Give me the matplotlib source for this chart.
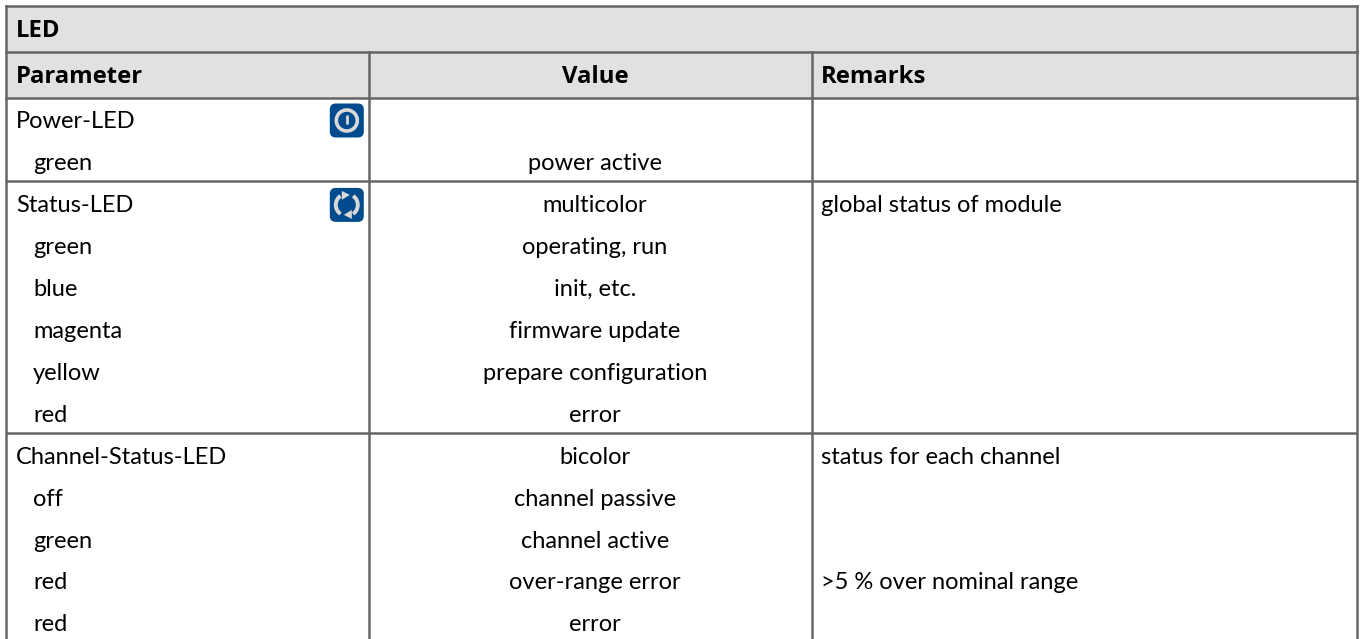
import matplotlib
matplotlib.use("Agg")
import matplotlib.pyplot as plt
from matplotlib.patches import Rectangle, FancyBboxPatch, Circle, Arc, Polygon

title = "LED"
headers = ["Parameter", "Value", "Remarks"]
parameters = ["Power-LED", "  green", "Status-LED", "  green", "  blue", "  magenta", "  yellow", "  red",
              "Channel-Status-LED", "  off", "  green", "  red", "  red"]
values = ["", "power active", "multicolor", "operating, run", "init, etc.", "firmware update",
          "prepare configuration", "error", "bicolor", "channel passive", "channel active",
          "over-range error", "error"]
remarks = ["", "", "global status of module", "", "", "", "", "", "status for each channel", "", "",
           ">5 % over nominal range", ""]
group_starts = [0, 2, 8]

W, H = 1362, 639
plt.rcParams['font.family'] = ['Lato', 'DejaVu Sans']
fig = plt.figure(figsize=(W / 100, H / 100), dpi=100)
ax = fig.add_axes([0, 0, 1, 1])
ax.set_xlim(0, W)
ax.set_ylim(H, 0)
ax.axis("off")

L, R, C1, C2 = 5.5, 1357, 369, 811.5
Y0, Y1, Y2 = 5.5, 51.5, 97.5
ROW = 41.95
FIRST = 120.5
TEXT_DY = 1
GRID = "#666666"
LW = 1.8
FS = 17
BFS = 17.2
VX = 595
RX = 821

ax.add_patch(Rectangle((L, Y0), R - L, Y2 - Y0, fc="#e1e1e1", ec="none"))


def row_y(i):
    return FIRST + i * ROW


def sep_y(i):
    return row_y(i) - 23


for xs, ys in [([L, L], [Y0, H]), ([R, R], [Y0, H]), ([L, R], [Y0, Y0]), ([L, R], [Y1, Y1]),
               ([L, R], [Y2, Y2]), ([C1, C1], [Y1, H]), ([C2, C2], [Y1, H])]:
    ax.plot(xs, ys, color=GRID, lw=LW, solid_capstyle="projecting")
for g in group_starts[1:]:
    ax.plot([L, R], [sep_y(g)] * 2, color=GRID, lw=LW, solid_capstyle="butt")

bold = dict(fontsize=BFS, fontweight="bold", family="Open Sans", va="center", color="black")
ax.text(16, 31, title, ha="left", **bold)
ax.text(16, 77, headers[0], ha="left", **bold)
ax.text(VX, 77, headers[1], ha="center", **bold)
ax.text(RX, 77, headers[2], ha="left", **bold)

for i, (p, v, r) in enumerate(zip(parameters, values, remarks)):
    y = row_y(i) + TEXT_DY
    indent = 17 if p.startswith("  ") else 0
    ax.text(16 + indent, y, p.strip(), fontsize=FS, va="center", ha="left", color="black")
    ax.text(VX, y, v, fontsize=FS, va="center", ha="center", color="black")
    ax.text(RX, y, r, fontsize=FS, va="center", ha="left", color="black")

BLUE = "#004b8d"
ICON = "#d9d9d9"
IX = 346.8


def badge(cy):
    ax.add_patch(FancyBboxPatch((IX - 13.5, cy - 13.5), 27, 27, boxstyle="round,pad=3.5,rounding_size=6",
                                fc=BLUE, ec="none"))


cy = row_y(0)
badge(cy)
ax.add_patch(Circle((IX, cy), 10.5, fc="none", ec=ICON, lw=2.6))
ax.plot([IX, IX], [cy - 4.5, cy + 2.5], color=ICON, lw=2.0, solid_capstyle="round")

cy = row_y(2) + 0.5
badge(cy)
ax.add_patch(Arc((IX, cy), 22, 22, theta1=125, theta2=235, ec=ICON, lw=2.8))
ax.add_patch(Arc((IX, cy), 22, 22, theta1=-55, theta2=55, ec=ICON, lw=2.8))
ax.add_patch(Polygon([(IX - 5, cy - 14), (IX + 3, cy - 10), (IX - 5, cy - 5)], fc=ICON, ec="none"))
ax.add_patch(Polygon([(IX + 5, cy + 14), (IX - 3, cy + 10), (IX + 5, cy + 5)], fc=ICON, ec="none"))

fig.savefig("out.png", dpi=100)
